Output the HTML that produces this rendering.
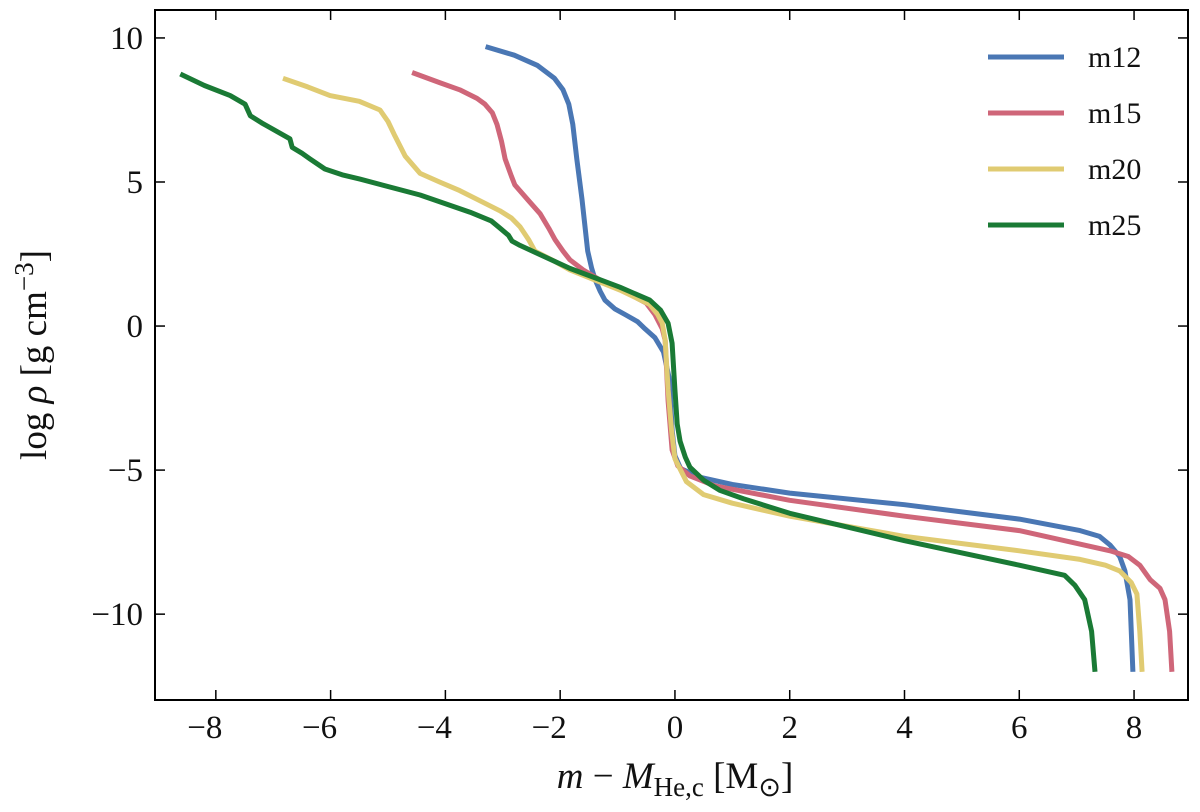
<!DOCTYPE html>
<html><head><meta charset="utf-8"><style>
body{margin:0;background:#fff}
svg text{font-family:"Liberation Serif",serif;fill:#111}
</style></head><body>
<svg id="chart" width="1200" height="807" xmlns="http://www.w3.org/2000/svg"></svg>
<script>
const xTicks=[-8,-6,-4,-2,0,2,4,6,8];
const yTicks=[10,5,0,-5,-10];
const seriesNames=["m12","m15","m20","m25"];
const seriesColors=["#4a77b4","#cf6679","#e0cb72","#1a7a35"];
const m12x=[-3.3,-2.8,-2.4,-2.1,-1.95,-1.85,-1.78,-1.71,-1.62,-1.52,-1.45,-1.39,-1.3,-1.22,-1.05,-0.87,-0.65,-0.52,-0.35,-0.2,-0.09,-0.05,0.0,0.1,0.44,1,2,4,6,7.06,7.4,7.58,7.75,7.84,7.93,7.98];
const m12y=[9.7,9.4,9.05,8.6,8.2,7.7,7.0,5.8,4.4,2.6,2.0,1.6,1.2,0.9,0.6,0.4,0.15,-0.1,-0.4,-0.9,-1.9,-3.6,-4.5,-4.95,-5.25,-5.5,-5.8,-6.2,-6.7,-7.1,-7.3,-7.6,-8.0,-8.5,-9.5,-12];
const m15x=[-4.58,-4.1,-3.75,-3.45,-3.31,-3.18,-3.1,-3.02,-2.96,-2.85,-2.79,-2.55,-2.35,-2.2,-2.09,-1.95,-1.83,-1.6,-1.31,-0.78,-0.5,-0.35,-0.22,-0.17,-0.12,-0.05,0.05,0.26,0.7,2,4,6,7.58,7.9,8.1,8.28,8.45,8.54,8.62,8.66];
const m15y=[8.8,8.45,8.2,7.9,7.7,7.4,7.0,6.4,5.8,5.2,4.9,4.35,3.9,3.4,3.0,2.6,2.3,1.95,1.6,1.1,0.8,0.4,-0.1,-0.5,-2.6,-4.3,-4.85,-5.2,-5.55,-6.05,-6.6,-7.1,-7.8,-8.0,-8.3,-8.8,-9.1,-9.5,-10.6,-12];
const m20x=[-6.83,-6.4,-6.01,-5.5,-5.14,-5.0,-4.88,-4.7,-4.44,-4.1,-3.75,-3.4,-3.05,-2.85,-2.7,-2.55,-2.44,-2.1,-1.83,-0.96,-0.44,-0.3,-0.22,-0.17,-0.12,-0.06,0,0.2,0.5,1,2,4,6,7.06,7.5,7.75,7.95,8.05,8.1,8.14];
const m20y=[8.6,8.3,8.0,7.8,7.5,7.1,6.6,5.9,5.3,5.0,4.7,4.35,4.0,3.75,3.45,3.0,2.6,2.25,1.95,1.25,0.75,0.4,0.1,-0.5,-2.2,-3.6,-4.6,-5.4,-5.85,-6.15,-6.6,-7.3,-7.8,-8.1,-8.3,-8.5,-8.9,-9.3,-10.6,-12];
const m25x=[-8.62,-8.2,-7.75,-7.49,-7.4,-7.2,-6.71,-6.67,-6.5,-6.36,-6.1,-5.8,-5.49,-4.44,-3.57,-3.2,-3.05,-2.9,-2.84,-2.7,-1.83,-0.96,-0.44,-0.25,-0.12,-0.05,0.0,0.04,0.09,0.18,0.26,0.5,0.78,1.2,2,4,6,6.79,6.97,7.14,7.26,7.32];
const m25y=[8.75,8.35,8.0,7.7,7.3,7.05,6.5,6.2,6.0,5.8,5.45,5.25,5.1,4.55,3.95,3.65,3.4,3.15,2.95,2.8,2.0,1.35,0.9,0.55,0.1,-0.6,-2.2,-3.4,-4.0,-4.55,-4.9,-5.35,-5.7,-6.0,-6.5,-7.45,-8.3,-8.65,-9.0,-9.5,-10.6,-12];
const seriesX=[m12x,m15x,m20x,m25x], seriesY=[m12y,m15y,m20y,m25y];

const L=155,R=1188,T=10,B=700, X0=-9.06,X1=8.94,Y0=-12.98,Y1=10.97;
const sx=v=>L+(v-X0)/(X1-X0)*(R-L);
const sy=v=>B-(v-Y0)/(Y1-Y0)*(B-T);
const svg=document.getElementById('chart');
const NS="http://www.w3.org/2000/svg";
function mk(t,a,p){const e=document.createElementNS(NS,t);for(const k in a)e.setAttribute(k,a[k]);(p||svg).appendChild(e);return e;}

seriesNames.forEach((n,i)=>{
  const d=seriesX[i].map((x,j)=>(j?'L':'M')+sx(x).toFixed(1)+','+sy(seriesY[i][j]).toFixed(1)).join('');
  const p=mk('path',{d:d,fill:'none',stroke:seriesColors[i],'stroke-width':5,'stroke-linejoin':'round'});
  
  
});
const fr=mk('rect',{x:L,y:T,width:R-L,height:B-T,fill:'none',stroke:'#000','stroke-width':2});


xTicks.forEach(v=>{
  const x=sx(v);
  mk('line',{x1:x,x2:x,y1:B,y2:B-10,stroke:'#000','stroke-width':1.5});
  mk('line',{x1:x,x2:x,y1:T,y2:T+10,stroke:'#000','stroke-width':1.5});
  const t=mk('text',{x:x,y:B+38,'font-size':33,'text-anchor':'middle'});
  t.textContent=v<0?'\u2212'+(-v):String(v);
  if(v<0)t.setAttribute('dx',-11);
  
  
});
yTicks.forEach(v=>{
  const y=sy(v);
  mk('line',{x1:L,x2:L+10,y1:y,y2:y,stroke:'#000','stroke-width':1.5});
  mk('line',{x1:R,x2:R-10,y1:y,y2:y,stroke:'#000','stroke-width':1.5});
  const t=mk('text',{x:L-12,y:y+11,'font-size':33,'text-anchor':'end'});
  t.textContent=v<0?'\u2212'+(-v):String(v);
  
  
});
const xt=mk('text',{x:675,y:788,'font-size':37,'text-anchor':'middle'});
xt.innerHTML='<tspan font-style="italic">m</tspan> \u2212 <tspan font-style="italic">M</tspan><tspan font-size="27" dy="8">He,c</tspan><tspan dy="-8"> [M</tspan><tspan font-size="27" dy="8">\u2299</tspan><tspan dy="-8">]</tspan>';


const yt=mk('text',{x:0,y:0,'font-size':37,'text-anchor':'middle',transform:'translate(46,355) rotate(-90)'});
yt.innerHTML='log <tspan font-style="italic">\u03c1</tspan> [g cm<tspan font-size="27" dy="-13">\u22123</tspan><tspan dy="13">]</tspan>';


seriesNames.forEach((n,i)=>{
  const y=57+i*56;
  const g=mk('g',{});
  
  
  mk('line',{x1:988,x2:1064,y1:y,y2:y,stroke:seriesColors[i],'stroke-width':5},g);
  const t=mk('text',{x:1088,y:y+10,'font-size':30},g);
  t.textContent=n;
});
</script>
</body></html>
